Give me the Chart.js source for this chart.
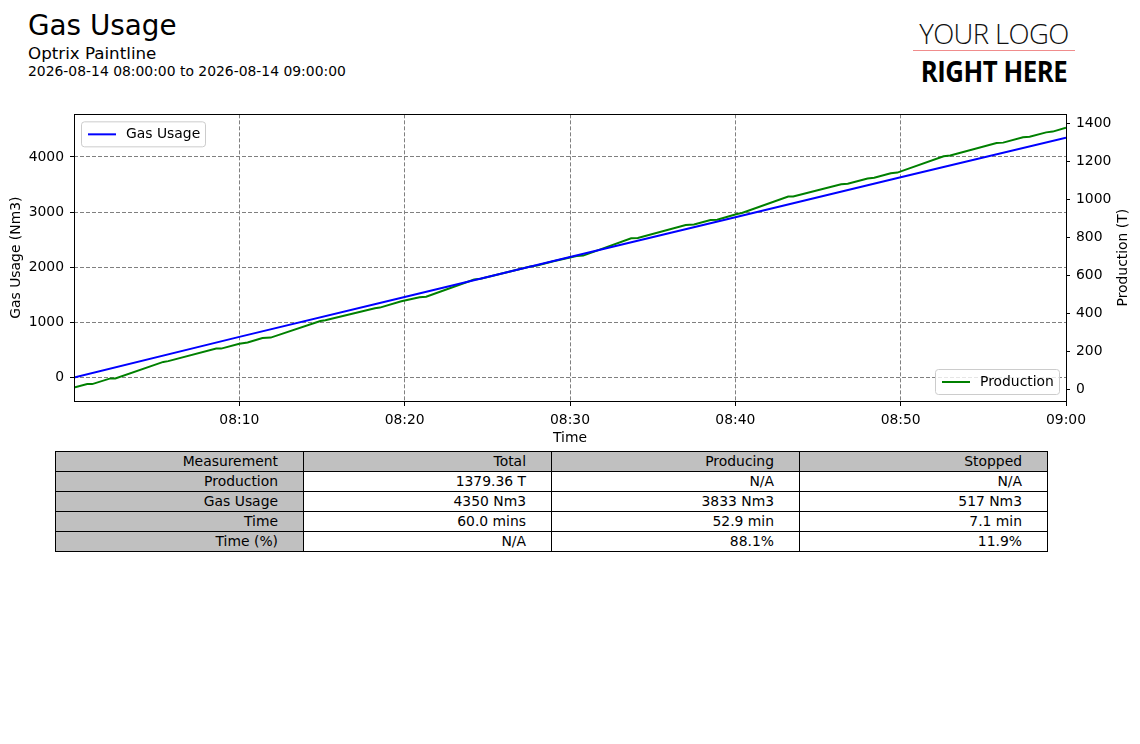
<!DOCTYPE html>
<html>
<head>
<meta charset="utf-8">
<script src="https://cdn.jsdelivr.net/npm/chart.js@4/dist/chart.umd.min.js"></script>
<style>
 body{margin:0;background:#fff;font-family:"DejaVu Sans",sans-serif;width:1140px;height:744px;position:relative;overflow:hidden}
 #title{position:absolute;left:28px;top:8.5px;font-size:27.8px;color:#000}
 #sub{position:absolute;left:28px;top:43px;font-size:16.7px}
 #range{position:absolute;left:28px;top:63px;font-size:13.9px}
 #logo1{position:absolute;left:903px;width:182px;top:15px;text-align:center;font-family:"Open Sans";font-weight:300;font-size:27.5px;color:#111;letter-spacing:-0.6px}
 #logoLine{position:absolute;left:913px;top:50px;width:162px;height:1px;background:#f08c8c}
 #logo2{position:absolute;left:893px;width:202px;top:52px;text-align:center;font-family:"Open Sans";font-weight:700;font-size:28px;color:#000;transform:scaleX(0.92);letter-spacing:-0.5px}
 #wrap{position:absolute;left:0;top:100px;width:1140px;height:350px}
 table{position:absolute;left:55px;top:451px;border-collapse:collapse;font-size:13.9px}
 td{border:1px solid #000;width:222px;height:19px;padding:0 25px 0 0;text-align:right;line-height:19px}
 td.g{background:#c0c0c0}
</style>
</head>
<body>
<div id="title">Gas Usage</div>
<div id="sub">Optrix Paintline</div>
<div id="range">2026-08-14 08:00:00 to 2026-08-14 09:00:00</div>
<div id="logo1">YOUR LOGO</div>
<div id="logoLine"></div>
<div id="logo2">RIGHT HERE</div>
<div id="wrap"><canvas id="c" width="1140" height="350"></canvas></div>
<table id="tbl"></table>
<script>
// minutes after 08:00
const gasMinutes=[0,10,20,30,40,50,60]
const gasUsage=[0,735,1460,2185,2905,3630,4350]

const prodMinutes=[0,0.8,1.1,2.2,2.5,5.4,5.7,8.6,8.9,10.0,10.5,11.4,11.9,14.9,15.2,18.2,18.5,19.8,20.9,21.3,24.2,24.6,27.6,28.0,29.0,30.4,30.8,33.7,34.1,37.0,37.5,38.5,38.9,40.1,40.4,43.2,43.5,46.4,46.8,48.0,48.4,49.4,49.8,52.6,53.0,55.8,56.2,57.4,57.8,58.8,59.2,60]
const production=[10,28,28,58,58,145,149,215,215,241,247,271,273,360,364,428,431,464,486,488,579,583,647,653,675,703,705,796,798,866,869,892,894,924,929,1016,1016,1081,1083,1111,1115,1139,1142,1228,1232,1298,1300,1328,1331,1354,1358,1379]

const xTickLabels=["08:10","08:20","08:30","08:40","08:50","09:00"]
const gasTicks=[0,1000,2000,3000,4000]
const prodTicks=[0,200,400,600,800,1000,1200,1400]

const tableRows=[
 ["Measurement","Total","Producing","Stopped"],
 ["Production","1379.36 T","N/A","N/A"],
 ["Gas Usage","4350 Nm3","3833 Nm3","517 Nm3"],
 ["Time","60.0 mins","52.9 min","7.1 min"],
 ["Time (%)","N/A","88.1%","11.9%"]
]

// table
const tbl=document.getElementById("tbl")
tableRows.forEach((r,i)=>{
 const tr=document.createElement("tr")
 r.forEach((c,j)=>{
  const td=document.createElement("td")
  td.textContent=c
  if(i==0||j==0) td.className="g"
  tr.appendChild(td)
 })
 tbl.appendChild(tr)
})

Chart.defaults.font.family="'DejaVu Sans'"
Chart.defaults.font.size=13.9
Chart.defaults.color="#000"

function legendBox(ctx,x,y,label,color){
 ctx.save()
 ctx.fillStyle="rgba(255,255,255,0.8)"
 ctx.strokeStyle="#cccccc"
 ctx.lineWidth=1
 ctx.beginPath()
 ctx.roundRect(x+0.5,y+0.5,124,25,3)
 ctx.fill();ctx.stroke()
 ctx.strokeStyle=color;ctx.lineWidth=2
 ctx.beginPath();ctx.moveTo(x+7,y+13);ctx.lineTo(x+35,y+13);ctx.stroke()
 ctx.fillStyle="#000";ctx.font="13.9px 'DejaVu Sans'";ctx.textBaseline="middle"
 ctx.fillText(label,x+45,y+13)
 ctx.restore()
}

const extras={
 id:"extras",
 afterDraw(chart){
  const ctx=chart.ctx,a=chart.chartArea
  ctx.save()
  ctx.strokeStyle="#000";ctx.lineWidth=1
  ctx.strokeRect(Math.round(a.left)+0.5,Math.round(a.top)+0.5,Math.round(a.right-a.left),Math.round(a.bottom-a.top))
  // right axis title, read bottom to top
  ctx.translate(1123,(a.top+a.bottom)/2)
  ctx.rotate(-Math.PI/2)
  ctx.textAlign="center";ctx.textBaseline="middle";ctx.fillStyle="#000"
  ctx.font="13.9px 'DejaVu Sans'"
  ctx.fillText("Production (T)",0,0)
  ctx.restore()
  const ds=chart.data.datasets
  legendBox(ctx,a.left+7,a.top+7,ds[0].label,ds[0].borderColor)
  legendBox(ctx,a.right-7-124,a.bottom-7-25,ds[1].label,ds[1].borderColor)
 }
}

new Chart(document.getElementById("c"),{
 type:"line",
 data:{
  datasets:[{
   label:"Gas Usage",
   data:gasMinutes.map((m,i)=>({x:m,y:gasUsage[i]})),
   borderColor:"#0000ff",
   borderWidth:2,
   pointRadius:0,
   yAxisID:"y"
  },{
   label:"Production",
   data:prodMinutes.map((m,i)=>({x:m,y:production[i]})),
   borderColor:"#008000",
   borderWidth:2,
   pointRadius:0,
   yAxisID:"y2"
  }]
 },
 options:{
  responsive:false,
  animation:false,
  layout:{padding:{top:13,left:0,right:0,bottom:0}},
  plugins:{legend:{display:false},tooltip:{enabled:false}},
  scales:{
   x:{
    type:"linear",min:0,max:60,
    afterFit:s=>{s.height=49},
    ticks:{stepSize:10,includeBounds:false,padding:6,maxRotation:0,
     callback:v=>v==0?"":xTickLabels[v/10-1]},
    grid:{color:"#808080",tickColor:c=>c.tick&&c.tick.value==0?"rgba(0,0,0,0)":"#000",tickLength:5,tickBorderDash:[]},
    border:{display:false,dash:[4,2]},
    title:{display:true,text:"Time",padding:{top:0,bottom:3}}
   },
   y:{
    position:"left",min:-428,max:4772,
    afterFit:s=>{s.width=74},
    afterBuildTicks:s=>{s.ticks=gasTicks.map(v=>({value:v}))},
    ticks:{padding:6,callback:v=>String(v)},
    grid:{color:"#808080",tickColor:"#000",tickLength:4,tickBorderDash:[]},
    border:{display:false,dash:[4,2]},
    title:{display:true,text:"Gas Usage (Nm3)",padding:{top:8,bottom:0}}
   },
   y2:{
    position:"right",min:-61,max:1449,
    afterFit:s=>{s.width=74},
    afterBuildTicks:s=>{s.ticks=prodTicks.map(v=>({value:v}))},
    ticks:{padding:6,callback:v=>String(v)},
    grid:{drawOnChartArea:false,tickColor:"#000",tickLength:4},
    border:{display:false}
   }
  }
 },
 plugins:[extras]
})
</script>
</body>
</html>
